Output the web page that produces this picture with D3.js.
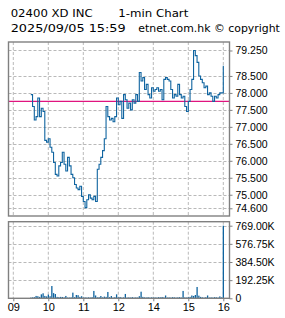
<!DOCTYPE html>
<html>
<head>
<meta charset="utf-8">
<script src="https://cdn.jsdelivr.net/npm/d3@7"></script>
<style>
  body { margin: 0; background: #fff; }
  text { font-family: "Liberation Sans", Arial, sans-serif; }
</style>
</head>
<body>
<div id="chart"></div>
<script>
// ---- data ----
const stockCode = "02400 XD INC";
const chartType = "1-min Chart";
const stamp = "2025/09/05 15:59";
const source = "etnet.com.hk \u00a9 copyright";

const prevClose = 77.75;
const stepMinutes = 3;       // one sample every 3 trading minutes, from 09:30
const firstMinute = 30;      // minutes after 09:00 on the (lunch-free) time axis

// price, 09:30 -> 16:00 (lunch 12:00-13:00 removed)
const price = [
  77.95, 77.6, 77.2, 77.3, 77.85, 77.3, 77.55, 77.45, 76.6, 76.55,
  76.65, 76.4, 76.25, 75.95, 75.6, 75.55, 75.85, 75.95, 76.25, 75.9,
  75.7, 76.1, 75.85, 75.6, 75.5, 75.3, 75.2, 75.15, 75.25, 74.95,
  74.8, 74.62, 74.85, 75.0, 74.9, 74.85, 74.95, 74.8, 75.75, 75.9,
  76.1, 76.3, 76.65, 77.6, 77.3, 77.2, 77.25, 77.15, 77.3, 77.85,
  77.65, 77.75, 77.25, 77.95, 77.8, 77.55, 77.7, 77.5, 77.8, 77.7,
  77.95, 77.75, 78.6, 78.35, 78.45, 78.1, 78.25, 77.95, 77.85, 78.15,
  78.05, 78.1, 78.15, 78.05, 78.1, 77.8, 78.4, 78.45, 78.4, 78.35,
  78.1, 77.85, 77.95, 77.9, 78.25, 77.95, 77.85, 77.9, 77.6, 77.45,
  77.75, 78.1, 78.4, 79.25, 79.1, 78.9, 78.5, 78.4, 78.3, 78.15,
  78.2, 77.95, 78.0, 77.9, 77.75, 77.9, 77.85, 77.95, 78.0, 78.0,
  78.8
];

// volume in thousands, same sampling
const volume = [
  8, 10, 12, 25, 22, 15, 42, 53, 25, 20,
  40, 22, 130, 55, 45, 15, 12, 15, 14, 10,
  25, 8, 8, 10, 60, 12, 35, 33, 15, 22,
  8, 10, 8, 10, 8, 12, 78, 30, 10, 12,
  24, 10, 18, 15, 67, 12, 24, 8, 12, 42,
  10, 14, 8, 10, 46, 8, 10, 8, 12, 8,
  10, 8, 22, 70, 15, 10, 8, 12, 8, 10,
  8, 10, 8, 12, 10, 14, 10, 30, 8, 10,
  8, 12, 10, 8, 10, 12, 8, 78, 10, 8,
  12, 15, 30, 25, 35, 120, 28, 15, 10, 8,
  12, 30, 8, 10, 8, 12, 10, 8, 20, 10,
  769
];

const hourTicks = [0, 60, 120, 180, 240, 300, 360];
const hourLabels = ["09", "10", "11", "12", "14", "15", "16"];
const priceTicks = [79.25, 78.5, 78.0, 77.5, 77.0, 76.5, 76.0, 75.5, 75.0, 74.6];
const volumeTicks = [0, 192.25, 384.5, 576.75, 769];

// ---- layout ----
const width = 285;
const height = 318;
const left = 8.5, right = 229.5;
const top1 = 42, bottom1 = 216;
const top2 = 221.7, bottom2 = 298.3;

const blue = "#0f64a0";
const frameColor = "#808080";
const gridColor = "#b9b9b9";

const svg = d3.select("#chart")
  .append("svg")
  .attr("width", width)
  .attr("height", height);

const x = d3.scaleLinear().domain([0, 360]).range([13.3, 223.3]);
const y = d3.scaleLinear().domain([74.373, 79.5]).range([bottom1, top1]);
const yv = d3.scaleLinear().domain([0, 811.4]).range([bottom2, top2]);

const minuteOf = (i) => firstMinute + i * stepMinutes;

// title (four pieces, each stretched to the width seen in the reference)
const titles = [
  { t: stockCode, x: 10.7, y: 16.5, w: 82 },
  { t: chartType, x: 118.3, y: 16.5, w: 70 },
  { t: stamp, x: 10.7, y: 32.3, w: 115 },
  { t: source, x: 138.3, y: 32.3, w: 141.5 }
];
svg.selectAll(".title")
  .data(titles)
  .enter()
  .append("text")
  .attr("class", "title")
  .attr("x", (d) => d.x)
  .attr("y", (d) => d.y)
  .attr("textLength", (d) => d.w)
  .attr("lengthAdjust", "spacingAndGlyphs")
  .style("font-family", "DejaVu Sans")
  .style("font-size", "11px")
  .attr("fill", "#000")
  .text((d) => d.t);

// grid helper
function grid(g, yScale, yTicks, yTop, yBottom) {
  g.selectAll(".vg")
    .data(hourTicks)
    .enter()
    .append("line")
    .attr("x1", (d) => x(d)).attr("x2", (d) => x(d))
    .attr("y1", yTop).attr("y2", yBottom)
    .attr("stroke", gridColor).attr("stroke-dasharray", "3,2");
  g.selectAll(".hg")
    .data(yTicks)
    .enter()
    .append("line")
    .attr("x1", left).attr("x2", right)
    .attr("y1", (d) => Math.round(yScale(d)) + 0.5)
    .attr("y2", (d) => Math.round(yScale(d)) + 0.5)
    .attr("stroke", gridColor).attr("stroke-dasharray", "3,2");
}

// ---- price panel ----
const gp = svg.append("g");
grid(gp, y, priceTicks, top1, bottom1);

gp.append("line")
  .attr("x1", left).attr("x2", right)
  .attr("y1", y(prevClose)).attr("y2", y(prevClose))
  .attr("stroke", "#e0147f").attr("stroke-width", 1.2);

const line = d3.line()
  .x((d, i) => x(minuteOf(i)))
  .y((d) => y(d))
  .curve(d3.curveStepAfter);

gp.append("path")
  .datum(price)
  .attr("d", line)
  .attr("fill", "none")
  .attr("stroke", blue)
  .attr("stroke-width", 1.1);

gp.append("rect")
  .attr("x", left).attr("y", top1)
  .attr("width", right - left).attr("height", bottom1 - top1)
  .attr("fill", "none").attr("stroke", frameColor).attr("stroke-width", 1.4);

const yAxis = svg.append("g")
  .attr("transform", `translate(${right},0)`)
  .call(d3.axisRight(y).tickValues(priceTicks).tickSize(3).tickPadding(3)
    .tickFormat(d3.format(".3f")));

// ---- volume panel ----
const gv = svg.append("g");
grid(gv, yv, volumeTicks.slice(1), top2, bottom2);

gv.selectAll("rect.bar")
  .data(volume)
  .enter()
  .append("rect")
  .attr("class", "bar")
  .attr("x", (d, i) => x(minuteOf(i)) - 0.6)
  .attr("width", 1.3)
  .attr("y", (d) => yv(d))
  .attr("height", (d) => yv(0) - yv(d))
  .attr("fill", blue);

gv.append("rect")
  .attr("x", left).attr("y", top2)
  .attr("width", right - left).attr("height", bottom2 - top2)
  .attr("fill", "none").attr("stroke", frameColor).attr("stroke-width", 1.4);

const vAxis = svg.append("g")
  .attr("transform", `translate(${right},0)`)
  .call(d3.axisRight(yv).tickValues(volumeTicks).tickSize(3).tickPadding(3)
    .tickFormat((d) => (d === 0 ? "0" : d3.format(".2f")(d) + "K")));

const xAxis = svg.append("g")
  .attr("transform", `translate(0,${bottom2})`)
  .call(d3.axisBottom(x).tickValues(hourTicks).tickSize(3).tickPadding(2)
    .tickFormat((d, i) => hourLabels[i]));

// axis styling
[yAxis, vAxis, xAxis].forEach((a) => {
  a.select(".domain").remove();
  a.selectAll(".tick line").attr("stroke", frameColor);
  a.selectAll(".tick text")
    .attr("fill", "#000")
    .style("font-family", "\"Liberation Sans\", Arial, sans-serif")
    .style("font-size", "10.5px");
});
xAxis.selectAll(".tick text").style("font-size", "11px");
</script>
</body>
</html>
